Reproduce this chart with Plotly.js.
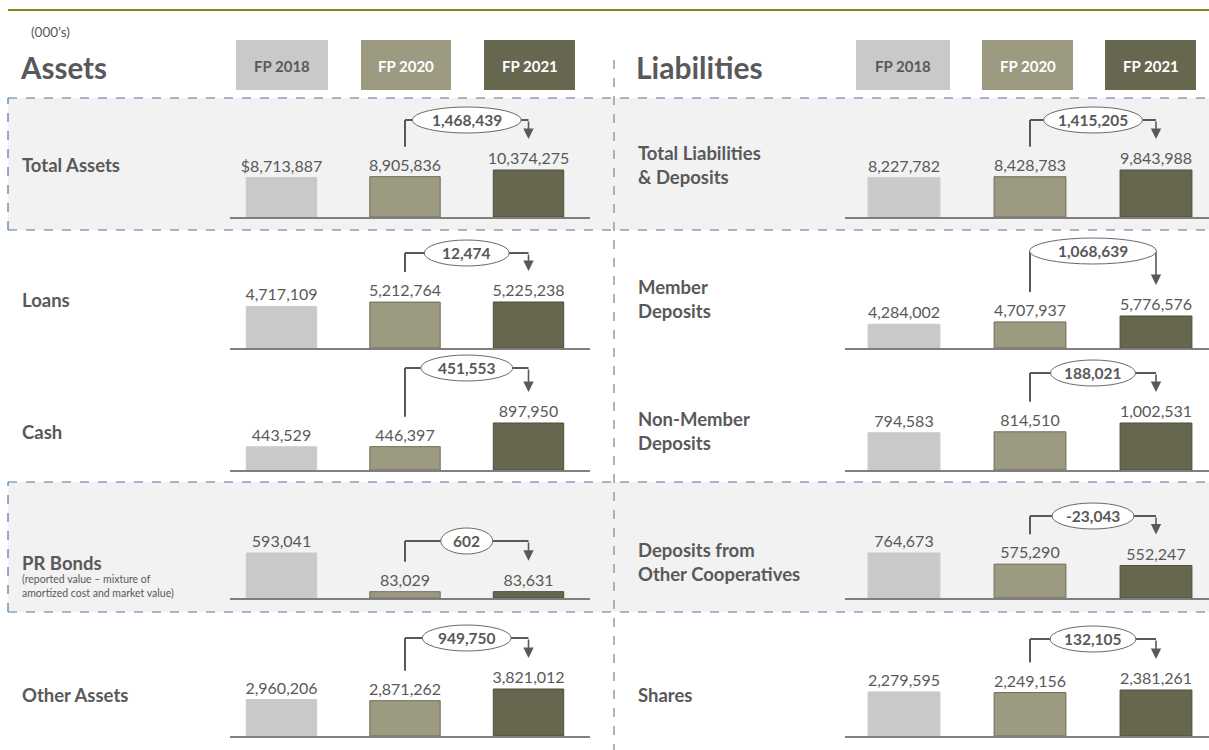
<!DOCTYPE html>
<html><head><meta charset="utf-8">
<script src="https://cdn.plot.ly/plotly-3.0.1.min.js"></script>
<style>html,body{margin:0;padding:0;background:#fff;}#chart{width:1209px;height:750px;}</style>
</head><body><div id="chart"></div>
<script>
// ---- data ----
const years = ['FP 2018', 'FP 2020', 'FP 2021'];
const assetLabels = ['Total Assets', 'Loans', 'Cash', 'PR Bonds', 'Other Assets'];
const liabilityLabels = ['Total Liabilities<br>& Deposits', 'Member<br>Deposits', 'Non-Member<br>Deposits', 'Deposits from<br>Other Cooperatives', 'Shares'];
const totalAssets = [8713887, 8905836, 10374275];
const loans = [4717109, 5212764, 5225238];
const cash = [443529, 446397, 897950];
const prBonds = [593041, 83029, 83631];
const otherAssets = [2960206, 2871262, 3821012];
const totalLiabilities = [8227782, 8428783, 9843988];
const memberDeposits = [4284002, 4707937, 5776576];
const nonMemberDeposits = [794583, 814510, 1002531];
const coopDeposits = [764673, 575290, 552247];
const shares = [2279595, 2249156, 2381261];
const prNote = '(reported value – mixture of<br>amortized cost and market value)';

// ---- styles / layout ----
const W = 1209, H = 750;
const barColors = ['#c9c9c9', '#9c9a80', '#67674f'];
const barLines = ['#c9c9c9', '#6f6d58', '#4d4d3a'];
const textColor = '#595959';
const FONT = 'Lato, "Open Sans", sans-serif';
const baselines = [217, 348, 470, 598, 736];
const labelY = [165, 300, 432, 563, 695];
const rlabelY = [165, 299, 431, 562, 695];
const sides = {
  L: {d0: 230, d1: 590, c0: 281.5, step: 123.5, labelX: 20},
  R: {d0: 845, d1: 1209, c0: 904, step: 126, labelX: 636}
};
const panels = [
  {v: totalAssets, side: 'L', row: 0, peak: 47, level: 97, ell: 109, dollar: true},
  {v: loans, side: 'L', row: 1, peak: 46, level: 95, ell: 85},
  {v: cash, side: 'L', row: 2, peak: 47, level: 102, ell: 92},
  {v: prBonds, side: 'L', row: 3, peak: 45, level: 57, ell: 52},
  {v: otherAssets, side: 'L', row: 4, peak: 47, level: 98, ell: 89},
  {v: totalLiabilities, side: 'R', row: 0, peak: 47, level: 97, ell: 99},
  {v: memberDeposits, side: 'R', row: 1, peak: 32, level: 97, ell: 127},
  {v: nonMemberDeposits, side: 'R', row: 2, peak: 47, level: 97, ell: 85},
  {v: coopDeposits, side: 'R', row: 3, peak: 45, level: 82, ell: 82},
  {v: shares, side: 'R', row: 4, peak: 46, level: 97, ell: 86}
];
const DOM = 120; // px height of each y domain

const px = p => p / W;
const py = p => 1 - p / H;
const fmt = n => n.toLocaleString('en-US');

const data = [];
const layout = {
  width: W, height: H, margin: {l: 0, r: 0, t: 0, b: 0},
  paper_bgcolor: '#ffffff', plot_bgcolor: 'rgba(0,0,0,0)',
  showlegend: false, font: {family: FONT, color: textColor},
  shapes: [], annotations: []
};
const S = layout.shapes, A = layout.annotations;
const note = (x, y, text, size, extra) => A.push(Object.assign({xref: 'paper', yref: 'paper', x: px(x), y: py(y),
  xanchor: 'left', yanchor: 'middle', showarrow: false, align: 'left', text: text,
  font: {size: size, color: textColor, family: FONT}}, extra || {}));

// background shading & dashed borders
const dashBlue = {color: '#4f77a3', width: 1.2, dash: 'dash'};
[[98, 230], [482, 612]].forEach(([a, b]) => {
  S.push({type: 'rect', xref: 'paper', yref: 'paper', x0: px(8), x1: 1, y0: py(b), y1: py(a),
    fillcolor: '#f2f2f2', line: {width: 0}, layer: 'below'});
  [a, b].forEach(yy => S.push({type: 'line', xref: 'paper', yref: 'paper', x0: px(8), x1: 1, y0: py(yy), y1: py(yy),
    line: dashBlue, layer: 'below'}));
  S.push({type: 'line', xref: 'paper', yref: 'paper', x0: px(8), x1: px(8), y0: py(b), y1: py(a),
    line: dashBlue, layer: 'below'});
});
// olive top rule
S.push({type: 'line', xref: 'paper', yref: 'paper', x0: px(8), x1: 1, y0: py(10), y1: py(10),
  line: {color: '#86861c', width: 2}});
// central divider
S.push({type: 'line', xref: 'paper', yref: 'paper', x0: px(614), x1: px(614), y0: py(60), y1: 0,
  line: {color: '#9a9a9a', width: 1.5, dash: 'dash'}});

// headings
note(29, 32, '(000’s)', 13.5);
note(18, 67, '<b>Assets</b>', 29.5);
note(634, 67, '<b>Liabilities</b>', 30);

// header boxes
const headerBoxes = {L: [[236, 328], [361, 451], [484, 575]], R: [[856, 950], [982, 1073], [1105, 1196]]};
Object.values(headerBoxes).forEach(boxes => boxes.forEach(([a, b], k) => {
  S.push({type: 'rect', xref: 'paper', yref: 'paper', x0: px(a), x1: px(b), y0: py(90), y1: py(40),
    fillcolor: barColors[k], line: {width: 0}});
  A.push({xref: 'paper', yref: 'paper', x: px((a + b) / 2), y: py(66), xanchor: 'center', yanchor: 'middle',
    showarrow: false, text: '<b>' + years[k] + '</b>',
    font: {size: 15, family: FONT, color: k === 0 ? textColor : '#ffffff'}});
}));

// row labels
assetLabels.forEach((t, r) => note(sides.L.labelX, labelY[r], '<b>' + t + '</b>', 18.5));
note(sides.L.labelX, 585.5, prNote, 10.5);
liabilityLabels.forEach((t, r) => note(sides.R.labelX, rlabelY[r], '<b>' + t + '</b>', 18.5));

// panels
panels.forEach((p, i) => {
  const n = i + 1;
  const sd = sides[p.side];
  const base = baselines[p.row];
  const vmax = Math.max(...p.v);
  const ymax = vmax * DOM / p.peak;
  const u = ymax / DOM; // data units per pixel
  const xr0 = -(sd.c0 - sd.d0) / sd.step;
  const xr1 = 2 + (sd.d1 - (sd.c0 + 2 * sd.step)) / sd.step;
  const xa = 'xaxis' + (n === 1 ? '' : n), ya = 'yaxis' + (n === 1 ? '' : n);
  const xr = 'x' + (n === 1 ? '' : n), yr = 'y' + (n === 1 ? '' : n);
  layout[xa] = {domain: [px(sd.d0), px(sd.d1)], range: [xr0, xr1], anchor: yr, showline: true,
    linecolor: '#7f7f7f', linewidth: 1.5, showticklabels: false, ticks: '', showgrid: false, zeroline: false, fixedrange: true};
  layout[ya] = {domain: [py(base), py(base - DOM)], range: [0, ymax], anchor: xr, visible: false,
    showgrid: false, zeroline: false, fixedrange: true};
  data.push({
    type: 'bar', x: [0, 1, 2], y: p.v, xaxis: xr, yaxis: yr, width: 0.57,
    marker: {color: barColors, line: {color: barLines, width: 1}},
    text: p.v.map((v, k) => (p.dollar && k === 0 ? '$' : '') + fmt(v)),
    textposition: 'outside', cliponaxis: false, constraintext: 'none',
    textfont: {size: 16, color: textColor, family: FONT}, hoverinfo: 'skip'
  });
  // change connector
  const change = p.v[2] - p.v[1];
  const lvl = p.level * u;
  const start = p.v[1] + 30 * u;
  const tipPx = p.v[2] / u + 31;
  const conn = {color: textColor, width: 2};
  S.push({type: 'line', xref: xr, yref: yr, x0: 1, x1: 1, y0: start, y1: lvl, line: conn});
  S.push({type: 'line', xref: xr, yref: yr, x0: 1, x1: 2, y0: lvl, y1: lvl, line: conn});
  S.push({type: 'circle', xref: xr, yref: yr, xsizemode: 'pixel', ysizemode: 'pixel', xanchor: 1.5, yanchor: lvl,
    x0: -p.ell / 2, x1: p.ell / 2, y0: -13, y1: 13, fillcolor: '#ffffff', line: {color: '#6a6a6a', width: 1}});
  A.push({xref: xr, yref: yr, x: 1.5, y: lvl, xanchor: 'center', yanchor: 'middle', showarrow: false,
    text: '<b>' + fmt(change) + '</b>', font: {size: 15.5, color: textColor, family: FONT}});
  A.push({xref: xr, yref: yr, x: 2, y: tipPx * u, ax: 0, ay: -(p.level - tipPx), text: '', showarrow: true,
    arrowhead: 2, arrowsize: 1.3, arrowwidth: 1.6, arrowcolor: textColor, standoff: 0});
});

Plotly.newPlot('chart', data, layout, {displayModeBar: false, staticPlot: true});
</script>
</body></html>
